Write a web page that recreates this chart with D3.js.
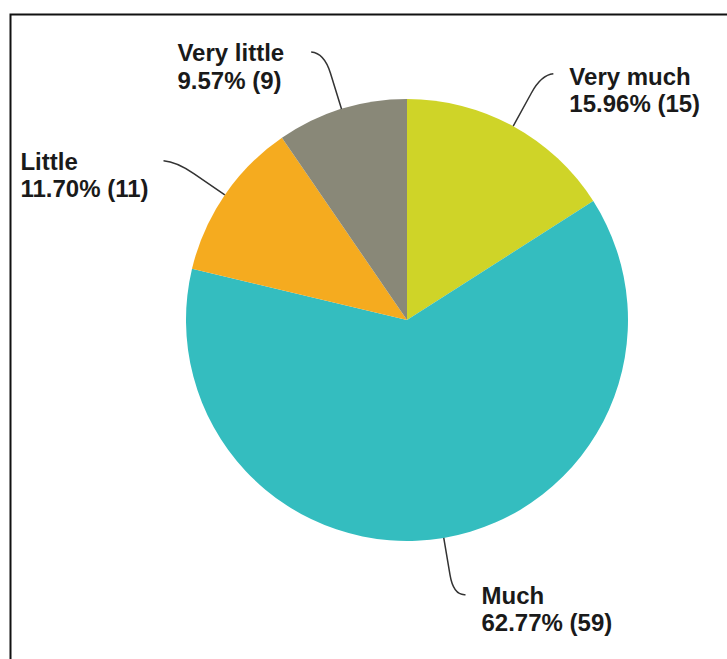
<!DOCTYPE html>
<html>
<head>
<meta charset="utf-8">
<script src="https://cdn.jsdelivr.net/npm/d3@7"></script>
<style>
  html, body { margin: 0; padding: 0; background: #fff; }
  svg { display: block; }
  text { font-family: "Liberation Sans", Arial, sans-serif; font-weight: bold; font-size: 24px; fill: #1a1a1a; }
</style>
</head>
<body>
<svg id="chart" width="727" height="659"></svg>
<script>
// ---- data ----
const categories = ["Very much", "Much", "Little", "Very little"];
const counts = [15, 59, 11, 9];
const percents = ["15.96%", "62.77%", "11.70%", "9.57%"];
const colors = ["#cfd428", "#34bdbf", "#f5ab1f", "#898878"];

// ---- layout ----
const W = 727, H = 659;
const cx = 407, cy = 320, R = 221;
const svg = d3.select("#chart");

// frame
svg.append("rect")
  .attr("x", 10.5).attr("y", 14.5)
  .attr("width", 760).attr("height", 700)
  .attr("fill", "none").attr("stroke", "#111").attr("stroke-width", 2);

const data = categories.map((c, i) => ({ cat: c, value: counts[i], pct: percents[i], color: colors[i] }));
const pie = d3.pie().value(d => d.value).sort(null);
const arcs = pie(data);
const arc = d3.arc().innerRadius(0).outerRadius(R);

const g = svg.append("g").attr("transform", `translate(${cx},${cy})`);
g.selectAll("path.slice").data(arcs).enter().append("path")
  .attr("class", "slice")
  .attr("d", arc)
  .attr("fill", d => d.data.color);

function polar(a, r) { return [r * Math.sin(a), -r * Math.cos(a)]; }

// small per-label nudges for the text blocks (layout only)
const textNudge = [[0, 2], [0, 0], [0, 0], [-12, 0]];

arcs.forEach((d, i) => {
  const mid = (d.startAngle + d.endAngle) / 2;
  const right = Math.sin(mid) >= 0;
  const s = polar(mid, R);
  const p1 = polar(mid, R * 1.17);
  const p2 = polar(mid, R * 1.265);
  const hx = p2[0] + (right ? 12 : -13);
  const hy = p2[1] - 1;
  g.append("path")
    .attr("d", `M${s[0]},${s[1]} L${p1[0]},${p1[1]} Q${p2[0]},${p2[1]} ${hx},${hy}`)
    .attr("fill", "none").attr("stroke", "#333").attr("stroke-width", 1.5);

  const t = g.append("text").attr("y", hy + 9 + textNudge[i][1]);
  t.append("tspan").attr("x", 0).text(d.data.cat);
  t.append("tspan").attr("x", 0).attr("dy", 27.5).text(`${d.data.pct} (${d.data.value})`);
  let tx;
  if (right) {
    tx = hx + 16;
  } else {
    const w = d3.max(t.selectAll("tspan").nodes(), n => n.getComputedTextLength());
    tx = hx - 15 - w;
  }
  tx += textNudge[i][0];
  t.selectAll("tspan").attr("x", tx);
});
</script>
</body>
</html>
